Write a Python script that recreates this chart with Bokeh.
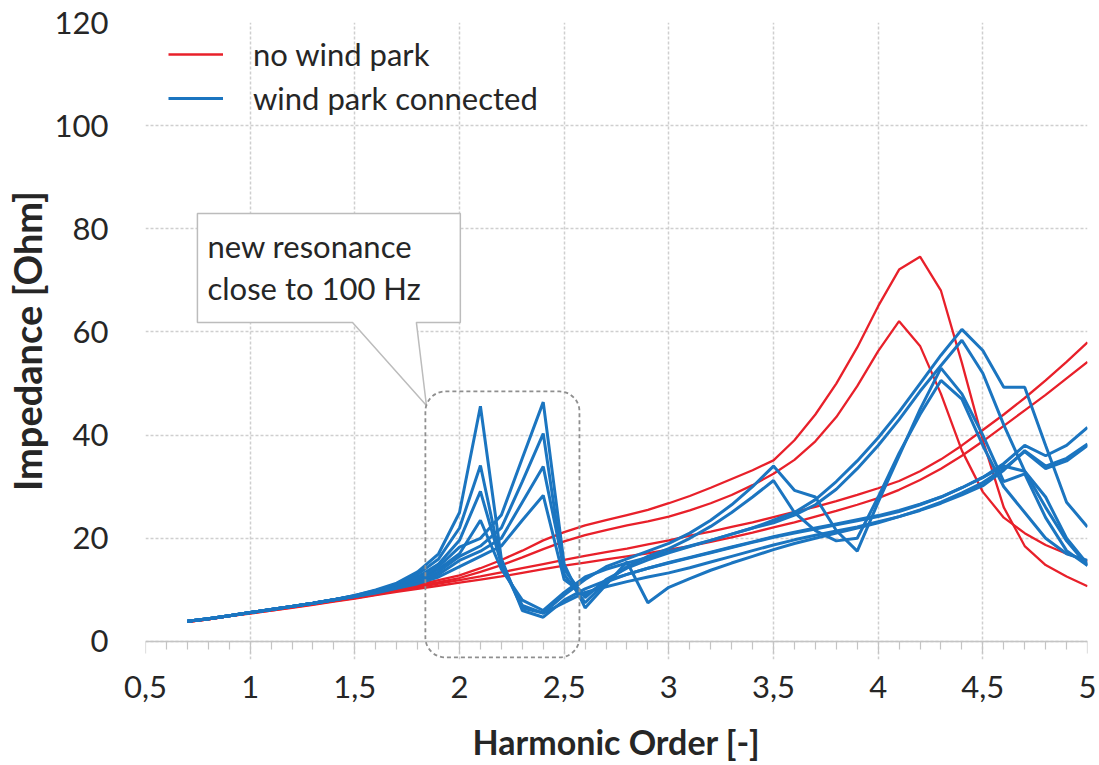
from bokeh.plotting import figure
from bokeh.models import (Range1d, FixedTicker, Legend, LegendItem, Label, BoxAnnotation,
                          PolyAnnotation, LinearAxis)
from bokeh.embed import file_html
from bokeh.resources import INLINE

# ---------------- data ----------------
harmonic_order = [0.7, 0.8, 0.9, 1.0, 1.1, 1.2, 1.3, 1.4, 1.5, 1.6, 1.7, 1.8, 1.9, 2.0,
                  2.1, 2.2, 2.3, 2.4, 2.5, 2.6, 2.7, 2.8, 2.9, 3.0, 3.1, 3.2, 3.3, 3.4,
                  3.5, 3.6, 3.7, 3.8, 3.9, 4.0, 4.1, 4.2, 4.3, 4.4, 4.5, 4.6, 4.7, 4.8,
                  4.9, 5.0]

# no wind park (red)
red_a = [3.8, 4.3, 4.9, 5.5, 6.1, 6.7, 7.3, 7.9, 8.6, 9.3, 10.1, 11.0, 11.9, 12.8,
         14.2, 15.8, 17.6, 19.6, 21.2, 22.5, 23.5, 24.5, 25.5, 26.8, 28.2, 29.8, 31.5, 33.2,
         35.1, 39.0, 44.0, 50.0, 57.0, 65.0, 72.1, 74.6, 68.0, 54.0, 39.0, 26.0, 18.5, 14.8,
         12.6, 10.7]
red_b = [3.8, 4.3, 4.9, 5.5, 6.1, 6.7, 7.3, 7.9, 8.5, 9.2, 10.0, 10.8, 11.5, 12.3,
         13.5, 14.8, 16.3, 17.9, 19.4, 20.6, 21.6, 22.5, 23.3, 24.2, 25.4, 26.8, 28.4, 30.3,
         32.5, 35.2, 38.8, 43.5, 49.5, 56.3, 62.1, 57.3, 48.0, 37.0, 29.0, 24.0, 21.0, 18.7,
         17.0, 15.6]
red_c = [3.8, 4.3, 4.9, 5.5, 6.0, 6.6, 7.2, 7.8, 8.4, 9.1, 9.8, 10.5, 11.2, 11.9,
         12.6, 13.4, 14.2, 15.0, 15.8, 16.6, 17.3, 18.0, 18.8, 19.6, 20.5, 21.3, 22.2, 23.1,
         24.1, 25.1, 26.1, 27.2, 28.4, 29.7, 31.1, 33.0, 35.3, 38.0, 41.0, 44.0, 47.2, 50.6,
         54.2, 58.0]
red_d = [3.8, 4.3, 4.9, 5.4, 6.0, 6.5, 7.1, 7.7, 8.3, 9.0, 9.6, 10.2, 10.8, 11.4,
         12.0, 12.6, 13.3, 14.0, 14.7, 15.3, 15.9, 16.5, 17.1, 17.8, 18.5, 19.3, 20.2, 21.1,
         22.1, 23.1, 24.2, 25.3, 26.5, 27.8, 29.4, 31.3, 33.5, 36.0, 38.8, 41.8, 44.8, 47.8,
         51.0, 54.2]

# wind park connected (blue)
blue_1 = [3.9, 4.4, 5.0, 5.6, 6.2, 6.8, 7.4, 8.1, 8.9, 10.0, 11.3, 13.5, 17.0, 25.0,
          45.6, 16.0, 6.0, 4.7, 8.0, 10.2, 11.8, 13.0, 14.2, 15.3, 16.3, 17.3, 18.3, 19.3,
          20.3, 21.2, 22.0, 22.8, 23.6, 24.4, 25.4, 26.6, 28.0, 29.8, 31.8, 34.5, 38.0, 36.0,
          38.0, 41.5]
blue_2 = [3.9, 4.4, 5.0, 5.6, 6.2, 6.8, 7.4, 8.1, 8.9, 9.9, 11.0, 13.0, 16.0, 22.0,
          34.1, 15.0, 6.5, 5.5, 7.5, 9.5, 10.6, 11.6, 12.5, 13.3, 14.3, 15.4, 16.5, 17.6,
          18.7, 19.7, 20.6, 21.4, 22.2, 23.2, 24.2, 25.4, 26.8, 28.4, 30.2, 33.2, 37.0, 34.0,
          35.5, 38.3]
blue_3 = [3.9, 4.4, 5.0, 5.6, 6.2, 6.8, 7.4, 8.1, 8.8, 9.8, 10.8, 12.5, 15.0, 19.6,
          29.1, 15.0, 7.0, 5.5, 9.0, 12.0, 14.5, 16.0, 17.5, 19.0, 21.0, 23.5, 26.5, 30.0,
          34.0, 29.3, 28.0, 21.5, 17.5, 27.0, 36.0, 45.0, 53.0, 48.0, 40.0, 31.0, 32.5, 24.0,
          17.6, 14.7]
blue_4 = [3.9, 4.4, 5.0, 5.6, 6.2, 6.8, 7.4, 8.1, 8.8, 9.7, 10.6, 12.0, 14.0, 17.0,
          23.5, 14.0, 8.0, 6.0, 9.5, 12.5, 14.0, 15.2, 16.3, 17.4, 18.5, 19.6, 20.8, 22.0,
          23.5, 25.0, 27.5, 31.0, 35.0, 39.5, 44.5, 50.0, 55.5, 60.5, 56.4, 49.3, 49.3, 38.0,
          27.0, 22.2]
blue_5 = [3.9, 4.4, 5.0, 5.6, 6.2, 6.8, 7.4, 8.1, 8.8, 9.7, 10.7, 12.2, 14.5, 18.3,
          20.0, 24.5, 35.5, 46.4, 15.0, 6.5, 11.0, 15.4, 7.5, 10.5, 12.2, 13.8, 15.2, 16.5,
          17.8, 19.0, 20.0, 21.0, 22.0, 23.0, 24.2, 25.5, 27.0, 28.8, 30.8, 33.5, 36.8, 33.5,
          35.0, 38.0]
blue_6 = [3.9, 4.4, 5.0, 5.6, 6.2, 6.8, 7.4, 8.1, 8.7, 9.6, 10.5, 11.8, 13.5, 16.5,
          18.5, 22.0, 31.0, 40.3, 13.0, 7.5, 11.5, 14.5, 16.5, 18.0, 20.0, 22.3, 25.0, 28.0,
          31.2, 25.0, 21.5, 19.5, 20.0, 28.0, 36.5, 44.0, 50.6, 47.0, 38.0, 30.0, 25.0, 20.0,
          17.0, 15.7]
blue_7 = [3.9, 4.4, 5.0, 5.6, 6.2, 6.8, 7.4, 8.1, 8.7, 9.5, 10.4, 11.5, 13.0, 15.7,
          17.5, 20.0, 27.0, 33.9, 14.0, 8.5, 12.0, 14.2, 15.8, 17.2, 18.4, 19.6, 20.8, 22.0,
          23.0, 24.5, 26.5, 29.5, 33.5, 38.0, 43.0, 48.5, 53.5, 58.4, 52.0, 42.0, 33.0, 26.0,
          19.5, 14.7]
blue_8 = [3.9, 4.4, 5.0, 5.6, 6.2, 6.8, 7.4, 8.1, 8.7, 9.4, 10.3, 11.2, 12.5, 14.5,
          16.5, 18.5, 23.5, 28.3, 12.0, 9.0, 11.5, 13.0, 14.2, 15.2, 16.2, 17.2, 18.2, 19.2,
          20.2, 21.0, 21.8, 22.6, 23.4, 24.2, 25.2, 26.5, 28.0, 29.8, 31.8, 34.0, 33.0, 28.0,
          20.0, 15.0]

red_series = [red_a, red_b, red_c, red_d]
blue_series = [blue_1, blue_2, blue_3, blue_4, blue_5, blue_6, blue_7, blue_8]

x_ticks = [0.5, 1.0, 1.5, 2.0, 2.5, 3.0, 3.5, 4.0, 4.5, 5.0]
x_tick_labels = ["0,5", "1", "1,5", "2", "2,5", "3", "3,5", "4", "4,5", "5"]
x_minor_ticks = [0.6, 0.7, 0.8, 0.9, 1.1, 1.2, 1.3, 1.4, 1.6, 1.7, 1.8, 1.9, 2.1, 2.2, 2.3, 2.4,
                 2.6, 2.7, 2.8, 2.9, 3.1, 3.2, 3.3, 3.4, 3.6, 3.7, 3.8, 3.9, 4.1, 4.2, 4.3, 4.4,
                 4.6, 4.7, 4.8, 4.9]
y_ticks = [0, 20, 40, 60, 80, 100, 120]

legend_labels = ["no wind park", "wind park connected"]

# ---------------- style ----------------
FONT = "Lato"
TXT = "#262626"
RED = "#e8202a"
BLUE = "#1b75c0"
GRID = "#cfcfcf"
AXIS = "#c4c4c4"

# y range extends a little below 0 so the dashed highlight box can reach under the axis
p = figure(width=1099, height=765, x_range=Range1d(0.5, 5.0), y_range=Range1d(-3.5, 120),
           output_backend="svg", toolbar_location=None,
           min_border_left=145, min_border_right=12, min_border_top=22, min_border_bottom=106)
p.outline_line_color = None
p.background_fill_color = "white"
p.border_fill_color = "white"

# x axis line + ticks drawn at y = 0 (no labels)
xa = p.xaxis[0]
xa.fixed_location = 0
xa.ticker = FixedTicker(ticks=x_ticks, minor_ticks=x_minor_ticks)
xa.axis_line_color = AXIS
xa.axis_line_width = 1.5
xa.major_tick_line_color = AXIS
xa.minor_tick_line_color = AXIS
xa.major_tick_line_width = 1.2
xa.minor_tick_line_width = 1.2
xa.major_tick_out = 12
xa.major_tick_in = 0
xa.minor_tick_out = 8
xa.minor_tick_in = 0
xa.major_label_text_color = None

# x tick labels + title below the frame
xl = LinearAxis(ticker=FixedTicker(ticks=x_ticks))
xl.major_label_overrides = {t: l for t, l in zip(x_ticks, x_tick_labels)}
xl.axis_line_color = None
xl.major_tick_line_color = None
xl.minor_tick_line_color = None
xl.major_tick_out = 0
xl.major_tick_in = 0
xl.minor_tick_out = 0
xl.minor_tick_in = 0
xl.major_label_standoff = 16
xl.major_label_text_font = FONT
xl.major_label_text_font_size = "31px"
xl.major_label_text_color = TXT
xl.axis_label = "Harmonic Order [-]"
xl.axis_label_text_font = FONT
xl.axis_label_text_font_size = "34px"
xl.axis_label_text_font_style = "bold"
xl.axis_label_text_color = TXT
xl.axis_label_standoff = 20
p.add_layout(xl, "below")

ya = p.yaxis[0]
ya.ticker = FixedTicker(ticks=y_ticks)
ya.axis_line_color = None
ya.major_tick_line_color = None
ya.minor_tick_line_color = None
ya.major_tick_out = 0
ya.major_tick_in = 0
ya.major_label_standoff = 37
ya.major_label_text_font = FONT
ya.major_label_text_font_size = "31px"
ya.major_label_text_color = TXT
ya.axis_label = "Impedance [Ohm]"
ya.axis_label_text_font = FONT
ya.axis_label_text_font_size = "38px"
ya.axis_label_text_font_style = "bold"
ya.axis_label_text_color = TXT
ya.axis_label_standoff = 2

for g in (p.xgrid[0], p.ygrid[0]):
    g.grid_line_color = GRID
    g.grid_line_width = 1.5
    g.grid_line_dash = "3 2"

# callout box with pointer
callout = PolyAnnotation(
    xs=[0.748, 2.004, 2.004, 1.794, 1.842, 1.489, 0.748],
    ys=[82.98, 82.98, 61.85, 61.85, 45.75, 61.85, 61.85],
    fill_color="white", fill_alpha=1.0, line_color="#bcbcbc", line_alpha=1.0,
    line_width=1.5, level="underlay")
p.add_layout(callout)
for txt, yy in (("new resonance", 76.6), ("close to 100 Hz", 68.6)):
    p.add_layout(Label(x=0.796, y=yy, text=txt, text_font=FONT, text_font_size="31px",
                       text_color=TXT, text_baseline="middle", text_align="left"))

# lines
red_renderers = [p.line(harmonic_order, s, line_color=RED, line_width=2.3) for s in red_series]
blue_renderers = [p.line(harmonic_order, s, line_color=BLUE, line_width=3.0) for s in blue_series]

# dashed rounded highlight around the new resonance
p.add_layout(BoxAnnotation(left=1.837, right=2.573, top=48.47, bottom=-3.1,
                           fill_alpha=0, line_color="#8f8f8f", line_alpha=1.0, line_width=1.8,
                           line_dash="4 3", border_radius=20, level="overlay"))

legend = Legend(items=[LegendItem(label=legend_labels[0], renderers=[red_renderers[0]]),
                       LegendItem(label=legend_labels[1], renderers=[blue_renderers[0]])],
                location=(23, 542), border_line_color=None, background_fill_alpha=0,
                glyph_width=55, glyph_height=34, label_height=34, spacing=6, padding=0,
                margin=0, label_standoff=30, label_text_font=FONT,
                label_text_font_size="31px", label_text_color=TXT)
p.add_layout(legend)

open("out.html", "w").write(file_html(p, INLINE))
